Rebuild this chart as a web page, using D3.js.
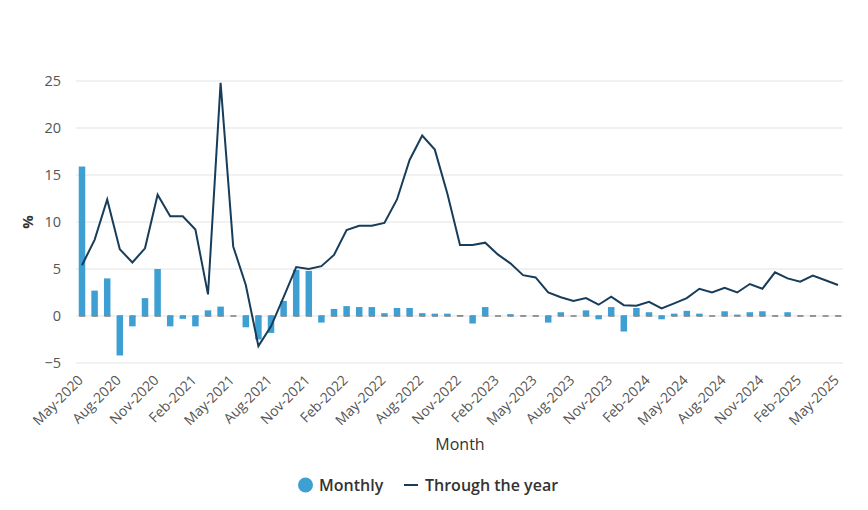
<!DOCTYPE html>
<html lang="en">
<head>
  <meta charset="UTF-8" />
  <title>Monthly and through the year</title>
  <script src="https://d3js.org/d3.v7.min.js"></script>
  <style>
    body { margin: 0; background: #fff; font-family: "Open Sans", sans-serif; }
    svg { display: block; }
    .tick text { fill: #555; }
  </style>
</head>
<body>
  <svg id="chart" width="868" height="510"></svg>
  <script>
    // Months from May-2020 to May-2025
    const monthNames = ["Jan","Feb","Mar","Apr","May","Jun","Jul","Aug","Sep","Oct","Nov","Dec"];
    const months = [];
    for (let i = 0; i <= 60; i++) {
      const m = (4 + i) % 12, y = 2020 + Math.floor((4 + i) / 12);
      months.push(monthNames[m] + "-" + y);
    }

    // Monthly change (%)
    const monthly = [
      15.9, 2.7, 4.0, -4.2, -1.1, 1.9, 5.0, -1.1, -0.3, -1.1, 0.6, 1.0,
      0.0, -1.2, -2.5, -1.8, 1.6, 4.9, 4.8, -0.7, 0.75, 1.05, 0.95, 0.95,
      0.3, 0.85, 0.85, 0.3, 0.25, 0.25, 0.1, -0.8, 0.95, 0.0, 0.2, 0.05,
      0.05, -0.7, 0.4, null, 0.6, -0.35, 0.95, -1.65, 0.85, 0.4, -0.35, 0.25,
      0.55, 0.25, 0.0, 0.5, 0.15, 0.4, 0.5, 0.05, 0.4, 0.05, 0.05, 0.0, 0.05
    ];

    // Through the year (%)
    const throughYear = [
      5.4, 8.1, 12.4, 7.1, 5.7, 7.2, 12.9, 10.6, 10.6, 9.2, 2.3, 24.8,
      7.4, 3.3, -3.2, -1.1, 2.0, 5.2, 5.0, 5.3, 6.5, 9.15, 9.6, 9.6,
      9.9, 12.4, 16.6, 19.2, 17.7, 13.0, 7.55, 7.55, 7.8, 6.55, 5.6, 4.35,
      4.1, 2.5, 2.0, 1.6, 1.9, 1.2, 2.05, 1.15, 1.1, 1.5, 0.8, 1.35,
      1.9, 2.9, 2.5, 3.0, 2.5, 3.4, 2.9, 4.65, 4.0, 3.65, 4.3, 3.8, 3.3
    ];

    const yTicks = [-5, 0, 5, 10, 15, 20, 25];

    const svg = d3.select("#chart");
    const left = 76, right = 843;

    const x = d3.scalePoint().domain(months).range([82, 838]);
    const y = d3.scaleLinear().domain([-5, 25]).range([363, 81]);

    // Gridlines
    svg.append("g")
      .selectAll("line")
      .data(yTicks)
      .enter().append("line")
      .attr("x1", left).attr("x2", right)
      .attr("y1", d => y(d)).attr("y2", d => y(d))
      .attr("stroke", "#e3e3e3").attr("stroke-width", 1);

    // Y axis labels
    const yAxis = svg.append("g")
      .attr("transform", `translate(${left - 15},0)`)
      .call(d3.axisLeft(y).tickValues(yTicks).tickSize(0).tickPadding(0));
    yAxis.select(".domain").remove();
    yAxis.selectAll("text").attr("font-size", 14.5).attr("font-family", "Open Sans").attr("fill", "#555");

    // Zero baseline
    svg.append("line")
      .attr("x1", left).attr("x2", right)
      .attr("y1", y(0)).attr("y2", y(0))
      .attr("stroke", "#999").attr("stroke-width", 2)
      .attr("stroke-dasharray", "6,6.6")
      .attr("stroke-dashoffset", -3.2);

    // Monthly bars
    const barW = 6.5;
    svg.append("g")
      .selectAll("rect")
      .data(months.map((m, i) => ({ m, v: monthly[i] })).filter(d => d.v !== null && d.v !== 0))
      .enter().append("rect")
      .attr("x", d => x(d.m) - barW / 2)
      .attr("width", barW)
      .attr("y", d => y(Math.max(0, d.v)))
      .attr("height", d => Math.abs(y(d.v) - y(0)))
      .attr("fill", "#3d9fd2");

    // Through the year line
    const line = d3.line()
      .x((d, i) => x(months[i]))
      .y(d => y(d));
    svg.append("path")
      .datum(throughYear)
      .attr("d", line)
      .attr("fill", "none")
      .attr("stroke", "#173d5a")
      .attr("stroke-width", 2);

    // X axis labels (every 3 months, rotated)
    const xLabels = months.filter((m, i) => i % 3 === 0);
    svg.append("g")
      .selectAll("text")
      .data(xLabels)
      .enter().append("text")
      .attr("transform", d => `translate(${x(d) + 2},${y(-5) + 18}) rotate(-45)`)
      .attr("text-anchor", "end")
      .attr("font-size", 14)
      .attr("fill", "#555")
      .text(d => d);

    // Axis titles
    svg.append("text")
      .attr("x", 460).attr("y", 450)
      .attr("text-anchor", "middle")
      .attr("font-size", 16)
      .attr("fill", "#333")
      .text("Month");

    svg.append("text")
      .attr("transform", "translate(33,222) rotate(-90)")
      .attr("text-anchor", "middle")
      .attr("font-size", 15)
      .attr("font-weight", "bold")
      .attr("fill", "#333")
      .text("%");

    // Legend
    const legend = svg.append("g").attr("transform", "translate(0,485)");
    legend.append("circle").attr("cx", 305.5).attr("cy", 0).attr("r", 7.5).attr("fill", "#3d9fd2");
    legend.append("text").attr("x", 319).attr("y", 6).attr("font-size", 16)
      .attr("font-weight", 600).attr("fill", "#333").text("Monthly");
    legend.append("line").attr("x1", 404).attr("x2", 418).attr("y1", 0).attr("y2", 0)
      .attr("stroke", "#173d5a").attr("stroke-width", 2);
    legend.append("text").attr("x", 425).attr("y", 6).attr("font-size", 16)
      .attr("font-weight", 600).attr("fill", "#333").text("Through the year");
  </script>
</body>
</html>
